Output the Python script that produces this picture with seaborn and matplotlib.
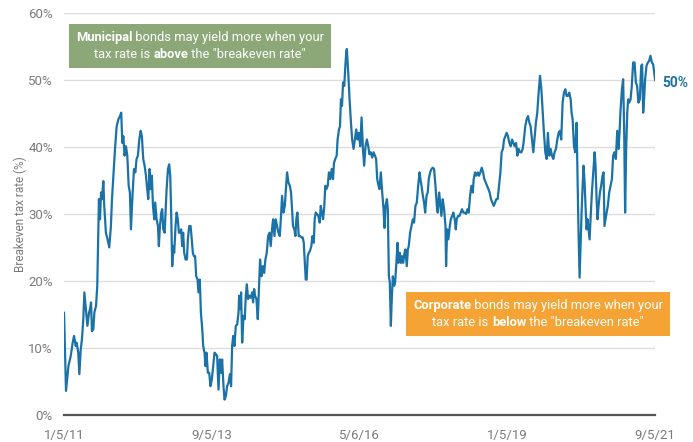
import seaborn as sns
import pandas as pd
import matplotlib.pyplot as plt
from matplotlib.offsetbox import TextArea, HPacker, VPacker, AnnotationBbox

# days since 1/5/11 and breakeven tax rate (%)
days = [0, 13, 29, 44, 57, 66, 77, 83, 94, 101, 110, 118, 127, 134, 145, 154, 165, 171, 178, 184,
        193, 200, 211, 219, 226, 230, 237, 244, 250, 259, 265, 276, 287, 298, 309, 316, 325, 336, 347, 358,
        369, 377, 384, 391, 399, 408, 417, 426, 434, 441, 450, 461, 470, 478, 487, 496, 505, 513, 522, 531,
        540, 546, 555, 564, 570, 579, 586, 595, 601, 610, 619, 625, 632, 641, 647, 654, 663, 669, 676, 685,
        693, 700, 706, 713, 720, 726, 735, 742, 750, 757, 764, 772, 779, 785, 792, 801, 810, 816, 825, 834,
        840, 849, 856, 864, 871, 880, 886, 895, 902, 911, 917, 926, 932, 939, 948, 957, 965, 974, 983, 992,
        1000, 1009, 1018, 1027, 1036, 1042, 1051, 1058, 1066, 1075, 1084, 1093, 1101, 1108, 1115, 1123, 1132, 1141, 1150, 1154,
        1161, 1167, 1174, 1183, 1191, 1198, 1205, 1213, 1222, 1231, 1240, 1246, 1253, 1259, 1268, 1277, 1283, 1292, 1301, 1310,
        1319, 1327, 1336, 1345, 1354, 1362, 1371, 1378, 1387, 1395, 1404, 1413, 1422, 1430, 1437, 1446, 1455, 1461, 1470, 1479,
        1488, 1496, 1503, 1509, 1518, 1525, 1531, 1538, 1547, 1556, 1564, 1573, 1580, 1586, 1593, 1599, 1606, 1613, 1621, 1630,
        1637, 1646, 1652, 1659, 1667, 1676, 1685, 1692, 1700, 1707, 1714, 1722, 1729, 1738, 1746, 1755, 1764, 1773, 1779, 1788,
        1797, 1803, 1812, 1819, 1825, 1832, 1839, 1847, 1854, 1860,
        1864, 1873, 1882, 1891, 1899, 1908, 1917, 1926, 1934, 1943, 1952, 1961, 1970, 1978, 1987, 1996, 2005, 2013, 2022, 2031,
        2040, 2049, 2057, 2064, 2073, 2079, 2088, 2097, 2106, 2112, 2119, 2128, 2134, 2141, 2147, 2154, 2160, 2167, 2176, 2182,
        2189, 2198, 2204, 2213, 2220, 2228, 2235, 2244, 2250, 2259, 2266, 2272, 2281, 2290, 2299, 2307, 2316, 2325, 2334, 2343,
        2349, 2356, 2365, 2373, 2380, 2389, 2397, 2404, 2413, 2422, 2430, 2439, 2448, 2457, 2463, 2472, 2479, 2487, 2496, 2505,
        2514, 2518, 2525, 2533, 2540, 2549, 2558, 2566, 2575, 2582, 2588, 2597, 2606, 2615, 2623, 2632, 2641, 2650, 2658, 2667,
        2676, 2685, 2694, 2700, 2709, 2718, 2727, 2735, 2744, 2753, 2762, 2770, 2779, 2788, 2797, 2805, 2814, 2823, 2832, 2841,
        2849, 2858, 2867, 2876, 2884, 2893, 2900, 2909, 2917, 2926, 2935, 2944, 2953, 2961, 2970, 2979, 2988, 2996, 3005, 3014,
        3023, 3031, 3040, 3049, 3058, 3067, 3075, 3084, 3093, 3102, 3110, 3119, 3128, 3137, 3146, 3154, 3163, 3172, 3181, 3189,
        3198, 3207, 3216, 3225, 3233, 3242, 3251, 3260, 3268, 3277, 3286, 3295, 3304, 3312, 3321, 3330, 3339, 3345, 3352, 3361,
        3369, 3378, 3385, 3391, 3398, 3404, 3411, 3418, 3424, 3431, 3437, 3444, 3450, 3457, 3464, 3470, 3479, 3488, 3497, 3503,
        3510, 3516, 3523, 3532, 3540, 3549, 3556, 3562, 3569, 3576, 3584, 3593, 3602, 3611, 3619, 3628, 3637, 3646, 3655, 3661,
        3668, 3677, 3685, 3692, 3698, 3705, 3712, 3718, 3725, 3734, 3742, 3751, 3760, 3769, 3777, 3786, 3795, 3804, 3810, 3817,
        3823, 3830, 3839, 3848, 3856, 3865, 3874, 3883, 3896]
rate = [15.3, 3.6, 7.3, 8.8, 10.8, 11.8, 10.3, 10.8, 9.3, 6.1, 9.8, 11.3, 14.3, 18.3, 15.5, 13.3, 15.3, 15.8, 16.8, 12.5,
        12.8, 15.3, 16.3, 19.3, 27.2, 32.2, 29.2, 33.2, 32.2, 34.9, 31.2, 27.2, 26.2, 25.0, 28.2, 32.2, 35.7, 39.7, 43.1, 44.1,
        44.6, 45.1, 40.6, 41.6, 38.7, 40.1, 38.7, 34.2, 33.2, 27.7, 32.2, 36.7, 36.2, 38.2, 38.7, 41.1, 42.4, 41.6, 38.2, 37.2,
        35.7, 34.2, 32.2, 36.7, 33.7, 35.7, 31.2, 29.2, 31.7, 29.2, 28.2, 25.2, 28.2, 30.2, 30.7, 27.7, 27.2, 30.2, 33.7, 36.7,
        37.4, 35.7, 30.2, 22.2, 25.2, 24.2, 28.2, 30.2, 29.2, 27.2, 27.2, 27.7, 25.2, 27.2, 24.2, 23.2, 23.2, 26.2, 28.2, 28.2,
        26.7, 24.2, 23.7, 23.7, 20.7, 20.2, 18.3, 20.2, 15.3, 12.8, 10.3, 9.3, 7.3, 9.3, 6.3, 6.3, 4.3, 5.3, 7.3, 9.3,
        9.1, 8.8, 3.8, 8.3, 6.3, 8.3, 4.3, 2.3, 2.8, 4.3, 4.8, 6.1, 4.3, 10.3, 11.8, 10.3, 13.3, 13.5, 15.3, 17.8,
        15.8, 18.3, 10.8, 14.8, 14.3, 17.8, 19.5, 17.3, 17.8, 17.5, 18.3, 16.8, 18.8, 17.8, 17.3, 14.3, 18.0, 23.2, 20.7, 22.2,
        21.2, 23.2, 24.2, 26.7, 27.2, 25.2, 27.7, 29.2, 26.7, 29.2, 28.2, 27.2, 26.7, 29.7, 32.7, 30.2, 31.2, 33.2, 36.2, 34.7,
        34.2, 33.2, 30.7, 28.2, 27.7, 26.7, 29.2, 30.2, 26.7, 26.7, 26.5, 26.5, 25.7, 23.2, 20.2, 20.2, 23.7, 24.2, 24.5, 25.2,
        26.7, 25.7, 29.2, 30.2, 30.0, 29.7, 28.7, 31.2, 30.2, 29.2, 30.7, 34.2, 33.7, 34.2, 36.2, 35.2, 36.7, 35.2, 37.6, 38.2,
        38.7, 41.1, 42.6, 43.1, 47.1, 46.1, 49.6, 49.1, 52.1, 54.1,
        54.6, 51.1, 47.1, 43.6, 41.1, 39.7, 41.1, 42.6, 41.1, 42.1, 40.1, 44.4, 39.7, 37.2, 40.1, 41.1, 40.1, 38.9, 39.2, 38.4,
        39.2, 38.7, 38.2, 35.2, 34.2, 33.7, 36.2, 33.2, 30.7, 27.9, 31.2, 32.2, 30.7, 20.7, 19.8, 13.3, 17.3, 20.7, 19.3, 19.8,
        22.2, 25.7, 22.7, 24.2, 22.7, 23.7, 22.7, 24.2, 24.7, 22.2, 24.7, 25.2, 27.2, 28.2, 29.2, 28.7, 31.2, 31.7, 34.2, 36.2,
        35.2, 34.2, 32.7, 31.7, 30.2, 32.7, 33.2, 35.2, 36.2, 36.7, 36.9, 36.7, 34.2, 31.2, 30.2, 33.2, 31.7, 29.7, 32.2, 30.7,
        28.2, 22.2, 27.7, 26.2, 27.7, 29.2, 29.7, 30.2, 29.2, 27.7, 29.2, 29.7, 29.7, 30.2, 30.7, 30.2, 30.2, 30.0, 30.7, 30.2,
        32.7, 34.2, 33.2, 35.2, 36.2, 35.7, 36.2, 35.7, 36.2, 36.9, 36.2, 35.2, 34.7, 34.2, 33.7, 33.2, 32.2, 31.7, 31.2, 31.7,
        32.2, 32.2, 34.2, 36.2, 39.2, 39.7, 41.1, 41.6, 42.1, 41.6, 40.6, 40.1, 41.1, 40.6, 40.1, 40.6, 38.7, 39.7, 39.2, 39.2,
        39.7, 41.1, 43.1, 44.1, 44.6, 43.6, 43.1, 41.1, 39.2, 41.6, 43.6, 45.1, 48.1, 50.6, 48.6, 45.6, 42.1, 39.2, 38.2, 42.1,
        38.7, 39.7, 38.7, 38.2, 39.2, 39.7, 41.1, 42.1, 42.4, 41.1, 46.6, 48.1, 48.6, 47.6, 47.6, 48.1, 47.1, 45.1, 44.1, 40.1,
        39.2, 43.6, 35.2, 27.2, 20.5, 25.2, 30.2, 34.2, 37.2, 34.7, 31.2, 27.7, 29.2, 27.7, 26.2, 29.2, 33.2, 36.2, 39.2, 37.2,
        32.2, 29.2, 31.2, 33.2, 34.2, 35.7, 36.2, 28.2, 29.2, 30.2, 31.2, 33.2, 34.2, 35.2, 38.7, 39.2, 38.2, 42.4, 39.7, 42.1,
        45.6, 48.6, 50.1, 42.1, 30.2, 39.7, 45.1, 47.1, 46.6, 47.1, 49.1, 52.6, 52.6, 49.6, 49.1, 46.6, 47.1, 52.1, 52.3, 45.1,
        47.1, 50.1, 52.1, 52.6, 52.8, 53.6, 52.6, 52.3, 49.9]

tick_dates = ["2011-01-05", "2013-09-05", "2016-05-06", "2019-01-05", "2021-09-05"]
tick_labels = ["1/5/11", "9/5/13", "5/6/16", "1/5/19", "9/5/21"]
y_ticks = [0, 10, 20, 30, 40, 50, 60]

blue = "#1a72a6"
grey_text = "#7a7a7a"

df = pd.DataFrame({"date": pd.Timestamp("2011-01-05") + pd.to_timedelta(days, unit="D"),
                   "rate": rate})

sns.set_theme(style="white")
plt.rcParams["font.family"] = ["Roboto", "DejaVu Sans"]

fig = plt.figure(figsize=(6.93, 4.42), dpi=100)
ax = fig.add_axes([0.0924, 0.061, 0.853, 0.91])

sns.lineplot(data=df, x="date", y="rate", color=blue, linewidth=1.6, ax=ax)

ax.set_xlim(pd.Timestamp(tick_dates[0]), pd.Timestamp(tick_dates[-1]))
ax.set_ylim(0, 60)
ax.set_xticks(pd.to_datetime(tick_dates))
ax.set_xticklabels(tick_labels, color=grey_text, fontsize=9.5)
ax.set_yticks(y_ticks)
ax.set_yticklabels([f"{v}%" for v in y_ticks], color=grey_text, fontsize=9.5)
ax.set_xlabel("")
ax.set_ylabel("Breakeven tax rate (%)", color=grey_text, fontsize=8.5, labelpad=1)

ax.grid(axis="y", color="#dddddd", linewidth=1)
ax.grid(axis="x", visible=False)
for s in ["left", "top", "right"]:
    ax.spines[s].set_visible(False)
ax.spines["bottom"].set_color("#555555")
ax.spines["bottom"].set_linewidth(1.6)
ax.tick_params(axis="x", length=4, width=1.2, color="#555555", direction="out", pad=6)
ax.tick_params(axis="y", length=0, pad=8)

# end label
ax.annotate(f"{rate[-1]:.0f}%", xy=(df["date"].iloc[-1], rate[-1]), xytext=(5, -2),
            textcoords="offset points", color=blue, fontsize=10, fontweight="bold",
            va="center", ha="left", annotation_clip=False)


def note_box(bold1, rest1, pre2, bold2, rest2, color, xy):
    props = dict(color="white", fontsize=9.3)
    bprops = dict(color="white", fontsize=9.3, fontweight="bold")
    line1 = HPacker(children=[TextArea(bold1, textprops=bprops), TextArea(rest1, textprops=props)],
                    align="baseline", pad=0, sep=0)
    line2 = HPacker(children=[TextArea(pre2, textprops=props), TextArea(bold2, textprops=bprops),
                              TextArea(rest2, textprops=props)],
                    align="baseline", pad=0, sep=0)
    box = VPacker(children=[line1, line2], align="center", pad=0, sep=3)
    ab = AnnotationBbox(box, xy, xycoords="axes fraction", frameon=True, pad=0.4,
                        bboxprops=dict(facecolor=color, edgecolor="none", boxstyle="square,pad=0.45"),
                        annotation_clip=False)
    ax.add_artist(ab)


note_box("Municipal", " bonds may yield more when your", "tax rate is ", "above", ' the "breakeven rate"',
         "#8da878", (0.23, 0.917))
note_box("Corporate", " bonds may yield more when your", "tax rate is ", "below", ' the "breakeven rate"',
         "#f4a334", (0.802, 0.251))

plt.savefig("out.png", dpi=100)
